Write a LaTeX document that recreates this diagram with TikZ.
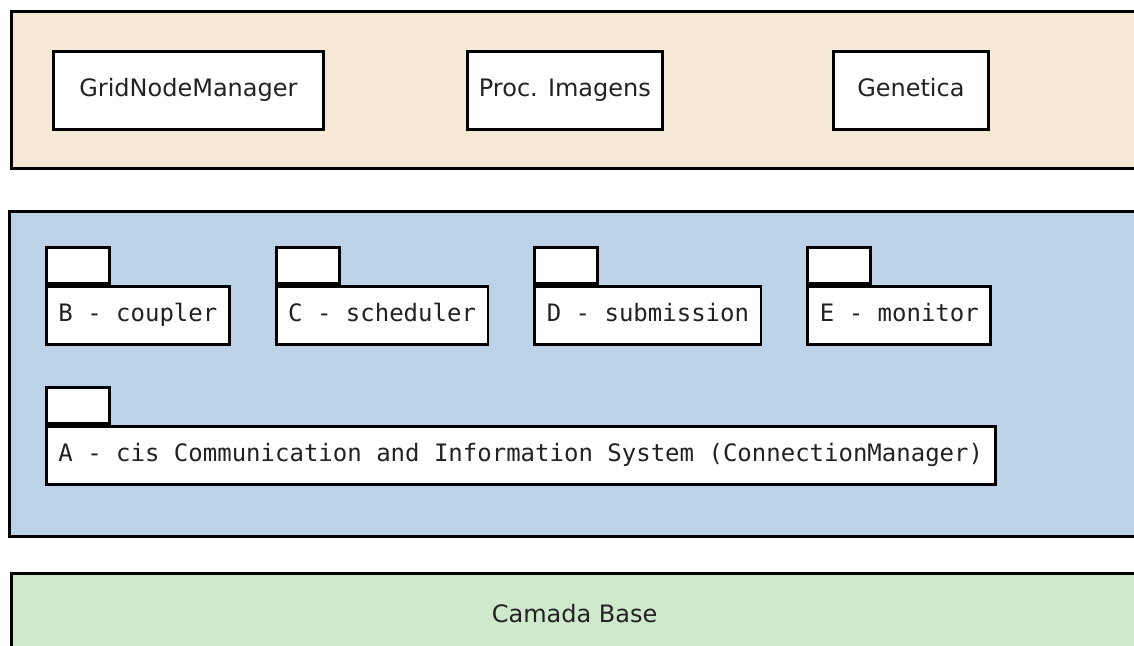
\documentclass[tikz,border=0pt]{standalone}
\usepackage{fontspec}
\setmainfont{DejaVu Sans}
\setmonofont{DejaVu Sans Mono}
\usetikzlibrary{positioning}
\definecolor{laybeige}{RGB}{246,234,215}
\definecolor{layblue}{RGB}{188,210,230}
\definecolor{laygreen}{RGB}{206,233,204}
\definecolor{txtgray}{RGB}{34,34,34}

\tikzset{
  layer/.style={draw,line width=1.6pt,anchor=north west,inner sep=0pt,text=txtgray,font=\fontsize{12}{14}\selectfont},
  appbox/.style={draw,line width=1.4pt,fill=white,minimum height=39pt,anchor=north west,text height=9pt,text depth=2.5pt,text=txtgray,font=\fontsize{12}{14}\selectfont},
  pkgbody/.style={draw,line width=1.4pt,fill=white,minimum height=29pt,inner xsep=6pt,text height=9pt,text depth=2.5pt,text=txtgray,font=\ttfamily\fontsize{12}{14}\selectfont},
  pkgtab/.style={draw,line width=1.4pt,fill=white,minimum width=31.5pt,minimum height=18pt,inner sep=0pt,anchor=south west}
}

\begin{document}
\begin{tikzpicture}[x=0.5pt,y=-0.5pt]
  \clip (0,0) rectangle (1134,646);
  % the three layers
  \node[layer,fill=laybeige,minimum width=570pt,minimum height=78.5pt] (apps) at (10,10) {};
  \node[layer,fill=layblue,minimum width=571pt,minimum height=162.5pt] (mid) at (8,210) {};
  \node[layer,fill=laygreen,minimum width=563pt,minimum height=40pt] (base) at (10,572) {Camada Base};
  % applications
  \node[appbox,minimum width=135pt] (gnm) at (52,50) {GridNodeManager};
  \node[appbox,minimum width=97.5pt] (proc) at (466,50) {Proc. Imagens};
  \node[appbox,minimum width=77.5pt] (gen) at (832,50) {Genetica};
  % middleware packages
  \node[pkgbody,anchor=north west] (pkgB) at (45,285) {B - coupler};
  \node[pkgbody,right=22pt of pkgB] (pkgC) {C - scheduler};
  \node[pkgbody,right=22pt of pkgC] (pkgD) {D - submission};
  \node[pkgbody,right=22pt of pkgD] (pkgE) {E - monitor};
  \node[pkgbody,anchor=north west] (pkgA) at (45,425) {A - cis Communication and Information System (ConnectionManager)};
  \foreach \p in {A,B,C,D,E}
    \node[pkgtab] (tab\p) at (pkg\p.north west) {};
\end{tikzpicture}
\end{document}
